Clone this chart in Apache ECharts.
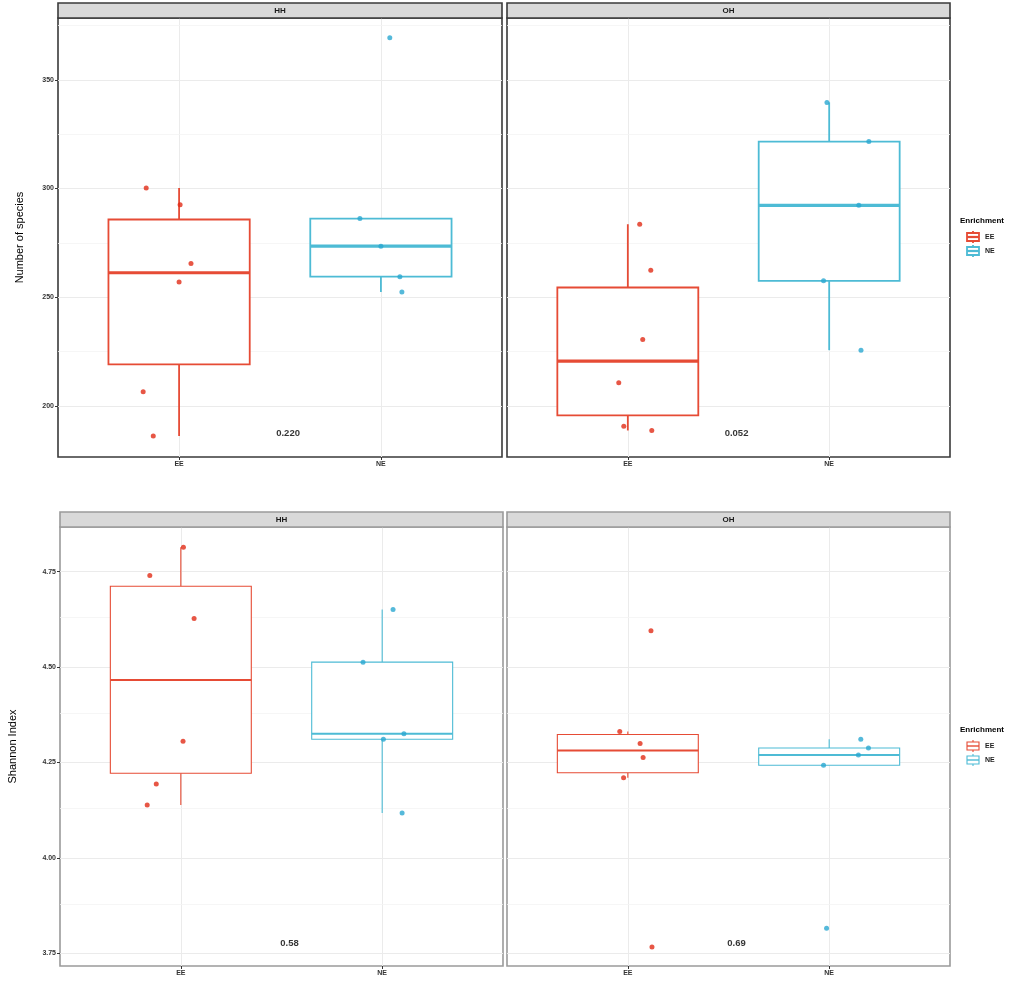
<!DOCTYPE html>
<html><head><meta charset="utf-8">
<script src="https://cdn.jsdelivr.net/npm/echarts@6/dist/echarts.min.js"></script>
<style>html,body{margin:0;padding:0;background:#fff}#c{width:1021px;height:993px}</style>
</head><body><div id="c"></div>
<script>
// ---------- data ----------
const groups = ['EE', 'NE'];
const facets = ['HH', 'OH'];

// Number of species (top row)
const speciesHH_EE = [300.3, 292.5, 265.6, 257.0, 206.6, 186.2];
const speciesHH_EE_jitter = [-0.163, 0.005, 0.059, 0.000, -0.178, -0.128];
const speciesHH_NE = [286.2, 273.5, 259.5, 252.4, 369.3];
const speciesHH_NE_jitter = [-0.104, 0.000, 0.094, 0.104, 0.044];
const speciesOH_EE = [283.6, 262.5, 230.6, 210.7, 190.7, 188.8];
const speciesOH_EE_jitter = [0.059, 0.114, 0.074, -0.045, -0.020, 0.119];
const speciesOH_NE = [339.6, 321.6, 292.3, 257.6, 225.7];
const speciesOH_NE_jitter = [-0.011, 0.197, 0.147, -0.028, 0.158];

// Shannon index (bottom row)
const shannonHH_EE = [4.814, 4.740, 4.627, 4.306, 4.194, 4.139];
const shannonHH_EE_jitter = [0.013, -0.154, 0.066, 0.011, -0.122, -0.167];
const shannonHH_NE = [4.651, 4.513, 4.3255, 4.311, 4.118];
const shannonHH_NE_jitter = [0.054, -0.095, 0.108, 0.006, 0.099];
const shannonOH_EE = [4.595, 4.331, 4.300, 4.263, 4.210, 3.767];
const shannonOH_EE_jitter = [0.115, -0.040, 0.061, 0.076, -0.021, 0.120];
const shannonOH_NE = [4.311, 4.288, 4.270, 4.243, 3.816];
const shannonOH_NE_jitter = [0.157, 0.195, 0.145, -0.028, -0.013];

const speciesTicks = [200, 250, 300, 350];
const speciesMinor = [225, 275, 325, 375];
const shannonTicks = [3.75, 4.00, 4.25, 4.50, 4.75];
const shannonMinor = [3.875, 4.125, 4.375, 4.625];

const speciesP = ['0.220', '0.052'];
const shannonP = ['0.58', '0.69'];

// ---------- styling / layout ----------
const FONT = 'Liberation Sans, Arial, sans-serif';
const COLORS = { EE: '#E64B35', NE: '#4DBBD5' };
const PT_COLORS = { EE: '#E12C16', NE: '#2AA8D1' };

const panels = [
  { grid: { left: 58, top: 18, width: 444, height: 439 }, facet: 0, row: 'species', showY: true },
  { grid: { left: 507, top: 18, width: 443, height: 439 }, facet: 1, row: 'species', showY: false },
  { grid: { left: 60, top: 527, width: 443, height: 439 }, facet: 0, row: 'shannon', showY: true },
  { grid: { left: 507, top: 527, width: 443, height: 439 }, facet: 1, row: 'shannon', showY: false }
];

const rowCfg = {
  species: {
    range: [176.6, 378.4], ticks: speciesTicks, minor: speciesMinor, p: speciesP, pY: 187.6,
    name: 'Number of species', nameGap: 33, border: '#3a3a3a', lw: 1.8, mw: 3.2,
    values: [[speciesHH_EE, speciesHH_NE], [speciesOH_EE, speciesOH_NE]],
    jitter: [[speciesHH_EE_jitter, speciesHH_NE_jitter], [speciesOH_EE_jitter, speciesOH_NE_jitter]],
    fmt: v => String(Math.round(v))
  },
  shannon: {
    range: [3.717, 4.867], ticks: shannonTicks, minor: shannonMinor, p: shannonP, pY: 3.777,
    name: 'Shannon Index', nameGap: 42, border: '#9a9a9a', lw: 1.1, mw: 2.0,
    values: [[shannonHH_EE, shannonHH_NE], [shannonOH_EE, shannonOH_NE]],
    jitter: [[shannonHH_EE_jitter, shannonHH_NE_jitter], [shannonOH_EE_jitter, shannonOH_NE_jitter]],
    fmt: v => v.toFixed(2)
  }
};

// ggplot-style box statistics
function quantile(s, p) {
  const h = (s.length - 1) * p, lo = Math.floor(h), hi = Math.ceil(h);
  return s[lo] + (h - lo) * (s[hi] - s[lo]);
}
function boxStats(vals) {
  const s = vals.slice().sort((a, b) => a - b);
  const q1 = quantile(s, 0.25), med = quantile(s, 0.5), q3 = quantile(s, 0.75);
  const iqr = q3 - q1;
  const lo = s.find(v => v >= q1 - 1.5 * iqr);
  const hi = s.slice().reverse().find(v => v <= q3 + 1.5 * iqr);
  return [lo, q1, med, q3, hi];
}

function renderBox(color, lw, mw) {
  return function (params, api) {
    const x = api.value(0);
    const lo = api.coord([x, api.value(1)]);
    const q1 = api.coord([x, api.value(2)]);
    const med = api.coord([x, api.value(3)]);
    const q3 = api.coord([x, api.value(4)]);
    const hi = api.coord([x, api.value(5)]);
    const hw = api.size([0.7, 0])[0] / 2;
    const cx = lo[0];
    return {
      type: 'group', children: [
        { type: 'line', shape: { x1: cx, y1: hi[1], x2: cx, y2: q3[1] }, style: { stroke: color, lineWidth: lw } },
        { type: 'line', shape: { x1: cx, y1: q1[1], x2: cx, y2: lo[1] }, style: { stroke: color, lineWidth: lw } },
        { type: 'rect', shape: { x: cx - hw, y: q3[1], width: 2 * hw, height: q1[1] - q3[1] }, style: { fill: '#fff', stroke: color, lineWidth: lw } },
        { type: 'line', shape: { x1: cx - hw, y1: med[1], x2: cx + hw, y2: med[1] }, style: { stroke: color, lineWidth: mw } }
      ]
    };
  };
}

const grids = [], xAxes = [], yAxes = [], series = [], graphics = [];

panels.forEach((pn, gi) => {
  const rc = rowCfg[pn.row];
  grids.push(Object.assign({ show: true, borderColor: rc.border, borderWidth: 1.6, backgroundColor: '#fff', containLabel: false }, pn.grid));
  xAxes.push({
    type: 'value', gridIndex: gi, min: 0.4, max: 2.6,
    axisLine: { show: false },
    axisTick: { show: true, customValues: [1, 2], length: 3, lineStyle: { color: '#333' } },
    axisLabel: { show: true, customValues: [1, 2], formatter: v => groups[Math.round(v) - 1], fontFamily: FONT, fontSize: 7, fontWeight: 'bold', color: '#333', margin: 4 },
    splitLine: { show: true, lineStyle: { color: '#EBEBEB', width: 1 } }
  });
  yAxes.push({
    type: 'value', gridIndex: gi, min: rc.range[0], max: rc.range[1],
    name: pn.showY ? rc.name : '', nameLocation: 'middle', nameGap: rc.nameGap,
    nameTextStyle: { fontFamily: FONT, fontSize: 11, color: '#000' },
    axisLine: { show: false },
    axisTick: { show: pn.showY, customValues: rc.ticks, length: 3, lineStyle: { color: '#333' } },
    axisLabel: { show: pn.showY, customValues: rc.ticks, formatter: rc.fmt, fontFamily: FONT, fontSize: 7, fontWeight: 'bold', color: '#333', margin: 4 },
    splitLine: { show: true, lineStyle: { color: '#EBEBEB', width: 1 } }
  });

  // minor grid + p-value label
  series.push({
    type: 'scatter', xAxisIndex: gi, yAxisIndex: gi, z: 1, silent: true,
    data: [[1.54, rc.pY]], symbolSize: 1, itemStyle: { color: 'rgba(0,0,0,0)' },
    label: { show: true, position: 'inside', formatter: rc.p[pn.facet], fontFamily: FONT, fontSize: 9.5, fontWeight: 'bold', color: '#000' },
    markLine: {
      silent: true, symbol: 'none', z: 1, animation: false,
      label: { show: false },
      lineStyle: { color: '#F4F4F4', width: 0.8, type: 'solid' },
      data: rc.minor.map(v => ({ yAxis: v }))
    }
  });

  groups.forEach((g, k) => {
    const vals = rc.values[pn.facet][k];
    const jit = rc.jitter[pn.facet][k];
    const xc = k + 1;
    series.push({
      type: 'custom', name: g, xAxisIndex: gi, yAxisIndex: gi, z: 3, silent: true,
      renderItem: renderBox(COLORS[g], rc.lw, rc.mw),
      encode: { x: 0, y: [1, 2, 3, 4, 5] },
      data: [[xc].concat(boxStats(vals))]
    });
    series.push({
      type: 'scatter', name: g, xAxisIndex: gi, yAxisIndex: gi, z: 4, silent: true,
      symbolSize: 5, itemStyle: { color: PT_COLORS[g] },
      data: vals.map((v, i) => [xc + jit[i], v])
    });
  });

  // strip
  const gr = pn.grid;
  graphics.push({
    type: 'rect', shape: { x: gr.left, y: gr.top - 15, width: gr.width, height: 15 },
    style: { fill: '#D9D9D9', stroke: rc.border, lineWidth: 1.6 }, z: 10
  });
  graphics.push({
    type: 'text', x: gr.left + gr.width / 2, y: gr.top - 7.5, z: 11,
    style: { text: facets[pn.facet], fontFamily: FONT, fontSize: 8, fontWeight: 'bold', fill: '#1a1a1a', align: 'center', verticalAlign: 'middle' }
  });
});

// legends (one per row)
function addLegend(titleY, rc) {
  graphics.push({
    type: 'text', x: 960, y: titleY, z: 11,
    style: { text: 'Enrichment', fontFamily: FONT, fontSize: 8, fontWeight: 'bold', fill: '#000', verticalAlign: 'middle' }
  });
  groups.forEach((g, k) => {
    const cy = titleY + 16 + k * 14;
    const c = COLORS[g];
    const x0 = 967, w = 12;
    graphics.push({ type: 'line', shape: { x1: x0 + w / 2, y1: cy - 6, x2: x0 + w / 2, y2: cy + 6 }, style: { stroke: c, lineWidth: rc.lw }, z: 11 });
    graphics.push({ type: 'rect', shape: { x: x0, y: cy - 4, width: w, height: 8 }, style: { fill: '#fff', stroke: c, lineWidth: rc.lw }, z: 12 });
    graphics.push({ type: 'line', shape: { x1: x0, y1: cy, x2: x0 + w, y2: cy }, style: { stroke: c, lineWidth: rc.mw * 0.7 }, z: 13 });
    graphics.push({
      type: 'text', x: 985, y: cy, z: 11,
      style: { text: g, fontFamily: FONT, fontSize: 7, fontWeight: 'bold', fill: '#222', verticalAlign: 'middle' }
    });
  });
}
addLegend(221, rowCfg.species);
addLegend(730, rowCfg.shannon);

const chart = echarts.init(document.getElementById('c'), null, { renderer: 'canvas' });
chart.setOption({
  animation: false,
  backgroundColor: '#fff',
  grid: grids, xAxis: xAxes, yAxis: yAxes, series: series,
  graphic: graphics
});
</script></body></html>
